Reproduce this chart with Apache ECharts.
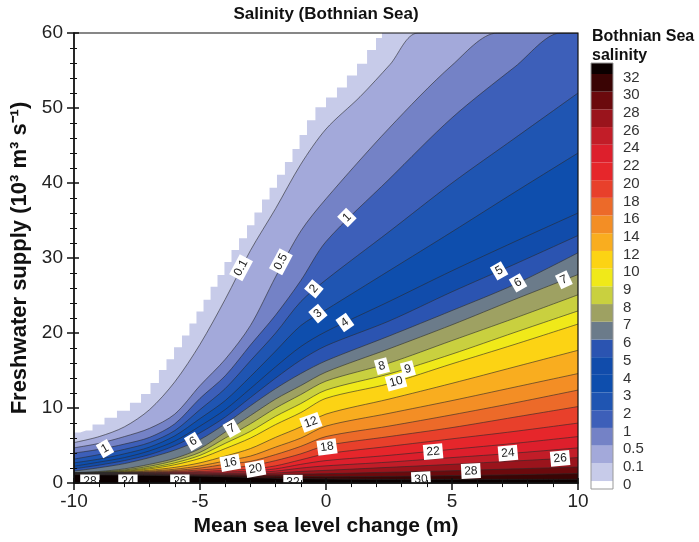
<!DOCTYPE html>
<html>
<head>
<meta charset="utf-8">
<script src="https://cdn.jsdelivr.net/npm/echarts@6/dist/echarts.min.js"></script>
<style>
  html, body { margin: 0; background: #fff; }
  #chart { width: 699px; height: 542px; }
</style>
</head>
<body>
<div id="chart"></div>
<script>
var FONT = 'Liberation Sans, Arial, Helvetica, sans-serif';

// contour levels drawn in the plot
var levels = [0.1, 0.5, 1, 2, 3, 4, 5, 6, 7, 8, 9, 10, 12, 14, 16, 18, 20, 22, 24, 26, 28, 30, 32];
// colour bar tick labels (0 .. 32)
var barLabels = ['0', '0.1', '0.5', '1', '2', '3', '4', '5', '6', '7', '8', '9', '10',
  '12', '14', '16', '18', '20', '22', '24', '26', '28', '30', '32'];
// band colours: <0, 0-0.1, 0.1-0.5, ... 30-32, >32
var bandColors = ['#ffffff', '#c7cbe9', '#a3a9da', '#7482c6', '#3d5fb9', '#1f55b2', '#0e4ead',
  '#114cab', '#2b54b1', '#6b7b8a', '#9ea162', '#c9d03f', '#f0e919', '#fcd314', '#f9ad1f',
  '#f38e25', '#ec6a29', '#e8402b', '#e6262b', '#dd1f2c', '#c21d28', '#9a141c', '#6b0a0d',
  '#3a0404', '#0b0000'];

// edge of the computed domain (white above it), read along the stair steps
var dryEdge = [[-10, 6.74], [-9.52, 7.0], [-9.01, 7.8], [-8.57, 8.72], [-8.02, 9.65], [-7.54, 10.7],
  [-7.14, 11.89], [-6.79, 13.35], [-6.47, 15.07], [-6.19, 16.52], [-5.87, 18.1], [-5.56, 19.69],
  [-5.28, 21.28], [-5.0, 22.86], [-4.72, 24.45], [-4.44, 26.17], [-4.17, 27.75], [-3.89, 29.47],
  [-3.61, 31.06], [-3.29, 32.64], [-2.98, 34.36], [-2.7, 36.08], [-2.38, 37.8], [-2.1, 39.38],
  [-1.79, 41.1], [-1.47, 42.82], [-1.19, 44.54], [-0.91, 46.39], [-0.6, 48.37], [-0.24, 50.09],
  [0.24, 51.41], [0.63, 52.73], [1.03, 54.32], [1.43, 55.9], [1.83, 57.75], [2.14, 59.34],
  [2.3, 60], [10, 60]];

// low salinity contours, they leave through the top edge
var c0_1 = [[-10, 5.4], [-9, 6.2], [-8, 7.5], [-7, 9.8], [-6, 13.5], [-5, 18.5], [-4, 24.5], [-3, 31.0],
  [-2, 36.6], [-1, 42.5], [0, 47.2], [1.35, 51.5], [2.54, 55.8], [3.65, 60], [10, 60]];
var c0_5 = [[-10, 4.7], [-9, 5.3], [-8, 6.2], [-7, 7.3], [-6, 9.2], [-5, 13.0], [-4, 16.5], [-3, 21.0],
  [-2, 27.5], [-1, 33.6], [0, 37.9], [2.5, 47.3], [5, 55.7], [6.8, 60], [10, 60]];
var c1 = [[-10, 4.0], [-9, 4.5], [-8, 5.2], [-7, 6.1], [-6, 7.9], [-5, 11.3], [-4, 14.3], [-3, 18.4],
  [-2, 22.4], [-1, 27.0], [0, 32.2], [2.5, 40.5], [5, 48.7], [7.5, 55.5], [9.3, 60], [10, 60]];

// the rest share one x grid
var xs = [-10, -9, -8, -7, -6, -5, -4, -3, -2, -1, 0, 2.5, 5, 7.5, 10];
var c2 = [3.2, 3.8, 4.5, 5.4, 7.0, 9.8, 12.6, 16.3, 20.0, 24.2, 27.1, 33.5, 40.0, 46.0, 52.0];
var c3 = [2.7, 3.2, 3.9, 4.8, 6.3, 8.6, 11.0, 14.2, 17.6, 21.0, 23.1, 28.3, 33.5, 38.8, 44.0];
var c4 = [2.25, 2.8, 3.4, 4.3, 5.6, 7.6, 9.8, 12.6, 15.5, 18.2, 20.2, 24.2, 28.3, 32.2, 36.0];
var c5 = [1.9, 2.4, 3.0, 3.8, 5.0, 6.7, 8.8, 11.4, 14.0, 16.4, 18.3, 21.6, 25.5, 29.2, 33.0];
var c6 = [1.6, 2.05, 2.6, 3.4, 4.4, 5.8, 7.9, 10.3, 12.6, 14.6, 16.3, 19.6, 23.0, 26.5, 30.7];
var c7 = [1.4, 1.55, 1.9, 2.5, 3.3, 4.6, 6.8, 9.0, 11.2, 13.0, 14.8, 17.9, 21.1, 24.5, 27.8];
var c8 = [1.38, 1.48, 1.75, 2.25, 3.0, 4.1, 6.0, 7.9, 10.0, 11.8, 13.6, 16.0, 19.0, 22.0, 25.1];
var c9 = [1.36, 1.44, 1.65, 2.05, 2.7, 3.7, 5.3, 6.9, 8.9, 10.6, 12.4, 14.55, 17.2, 20.1, 22.95];
var c10 = [1.35, 1.41, 1.57, 1.9, 2.45, 3.3, 4.6, 6.0, 7.8, 9.4, 11.3, 13.25, 15.9, 18.5, 21.2];
var c12 = [1.34, 1.39, 1.5, 1.72, 2.1, 2.7, 3.6, 4.6, 6.1, 7.5, 9.2, 11.2, 13.3, 15.5, 17.7];
var c14 = [1.33, 1.37, 1.45, 1.6, 1.85, 2.3, 2.95, 3.6, 4.8, 6.0, 7.6, 9.3, 11.0, 12.8, 14.6];
var c16 = [1.32, 1.35, 1.41, 1.5, 1.68, 2.0, 2.5, 2.9, 3.8, 4.9, 6.2, 7.6, 9.1, 10.7, 12.4];
var c18 = [1.31, 1.33, 1.38, 1.43, 1.55, 1.75, 2.0, 2.3, 3.0, 3.9, 5.0, 6.2, 7.4, 8.8, 10.2];
var c20 = [1.3, 1.31, 1.35, 1.38, 1.45, 1.55, 1.7, 1.85, 2.3, 3.1, 3.9, 4.9, 5.9, 6.9, 8.0];
var c22 = [1.28, 1.29, 1.32, 1.33, 1.37, 1.42, 1.5, 1.6, 1.9, 2.5, 3.0, 3.7, 4.5, 5.3, 6.2];
var c24 = [1.26, 1.26, 1.28, 1.28, 1.3, 1.32, 1.35, 1.4, 1.6, 2.0, 2.3, 2.8, 3.4, 4.0, 4.7];
var c26 = [1.24, 1.23, 1.24, 1.23, 1.22, 1.22, 1.25, 1.25, 1.35, 1.55, 1.7, 2.1, 2.5, 2.95, 3.4];
var c28 = [1.21, 1.2, 1.19, 1.17, 1.15, 1.12, 1.12, 1.1, 1.1, 1.2, 1.25, 1.45, 1.65, 1.9, 2.15];
var c30 = [1.17, 1.15, 1.13, 1.1, 1.07, 1.02, 1.0, 0.95, 0.9, 0.9, 0.85, 0.9, 1.0, 1.12, 1.28];
var c32 = [1.13, 1.1, 1.07, 1.03, 0.98, 0.92, 0.85, 0.75, 0.65, 0.6, 0.55, 0.5, 0.5, 0.5, 0.5];

// contour labels: text, x, y, rotation (degrees)
var contourLabels = [
  ['0.1', -3.37, 28.7, 62], ['0.5', -1.79, 29.5, 62], ['1', 0.83, 35.4, 45], ['1', -8.77, 4.6, 30],
  ['2', -0.48, 25.9, 50], ['3', -0.32, 22.6, 40], ['4', 0.75, 21.4, 35], ['5', 6.87, 28.3, 30],
  ['6', 7.62, 26.7, 30], ['7', 9.44, 27.1, 25], ['6', -5.27, 5.55, 30], ['7', -3.74, 7.3, 30],
  ['8', 2.22, 15.6, 15], ['9', 3.25, 15.2, 15], ['10', 2.78, 13.5, 15], ['12', -0.6, 8.1, 20],
  ['16', -3.8, 2.7, 10], ['20', -2.8, 1.9, 10], ['18', 0.04, 4.8, 8], ['22', 4.25, 4.2, 5],
  ['24', 7.22, 4.0, 5], ['26', 9.29, 3.3, 5], ['28', 5.75, 1.6, 3], ['30', 3.77, 0.5, 3],
  ['28', -9.37, 0.15, 0], ['24', -7.86, 0.15, 0], ['26', -5.8, 0.15, 0], ['32', -1.31, 0.1, 0]
];

function zip(ys) {
  return xs.map(function (x, i) { return [x, ys[i]]; });
}

var contours = [c0_1, c0_5, c1, zip(c2), zip(c3), zip(c4), zip(c5), zip(c6), zip(c7), zip(c8), zip(c9),
  zip(c10), zip(c12), zip(c14), zip(c16), zip(c18), zip(c20), zip(c22), zip(c24), zip(c26), zip(c28),
  zip(c30), zip(c32)];

var series = [];

// wet domain, lightest band
series.push({
  type: 'line', data: dryEdge, step: 'middle', showSymbol: false, silent: true,
  lineStyle: { width: 0 }, areaStyle: { color: bandColors[1], opacity: 1 }
});

contours.forEach(function (pts, k) {
  series.push({
    name: String(levels[k]),
    type: 'line', data: pts, smooth: 0.3, showSymbol: false, silent: true,
    lineStyle: { color: '#2a2a2a', width: 0.7, opacity: 0.85 },
    areaStyle: { color: bandColors[k + 2], opacity: 1 }
  });
});

// white label boxes on the contours
series.push({
  type: 'custom', silent: true, clip: true, z: 5,
  data: contourLabels.map(function (d) { return [d[1], d[2], d[3]]; }),
  encode: { x: 0, y: 1 },
  renderItem: function (params, api) {
    var p = api.coord([api.value(0), api.value(1)]);
    return {
      type: 'text', x: p[0], y: p[1], rotation: api.value(2) * Math.PI / 180,
      style: {
        text: contourLabels[params.dataIndex][0], fill: '#222', backgroundColor: '#fff',
        padding: [2, 3, 1, 3], font: '12px ' + FONT, align: 'center', verticalAlign: 'middle'
      }
    };
  }
});

// colour bar
var barBands = [[0, -0.45, 0]];
for (var j = 1; j < 24; j++) barBands.push([j, j - 1, j]);
barBands.push([24, 23, 23.62]);

series.push({
  type: 'custom', xAxisIndex: 2, yAxisIndex: 2, silent: true,
  data: barBands,
  encode: { y: [1, 2] },
  renderItem: function (params, api) {
    var a = api.coord([0, api.value(1)]);
    var b = api.coord([1, api.value(2)]);
    return {
      type: 'rect',
      shape: { x: a[0], y: b[1], width: b[0] - a[0], height: a[1] - b[1] },
      style: { fill: bandColors[api.value(0)] }
    };
  }
});

var barTicks = barLabels.map(function (s, i) { return i - 0.2; });

var axisFont = { fontFamily: FONT, fontSize: 19, color: '#222' };

var option = {
  animation: false,
  title: [
    { text: 'Salinity (Bothnian Sea)', left: 321, top: 1, textAlign: 'center',
      textStyle: { fontFamily: FONT, fontSize: 17, fontWeight: 'bold', color: '#111' } },
    { text: 'Bothnian Sea\nsalinity', left: 587, top: 22,
      textStyle: { fontFamily: FONT, fontSize: 16, fontWeight: 'bold', color: '#111', lineHeight: 19 } }
  ],
  grid: [
    { left: 74, right: 121, top: 33, bottom: 55, show: true, borderColor: '#111', borderWidth: 1.2,
      backgroundColor: 'transparent', z: 10 },
    { left: 591, top: 63, width: 22, height: 426, show: true, borderColor: '#999', borderWidth: 1,
      backgroundColor: 'transparent', z: 10 }
  ],
  xAxis: [
    { type: 'value', min: -10, max: 10, interval: 5, z: 10,
      axisLine: { onZero: false, lineStyle: { color: '#111', width: 1.5 } },
      axisTick: { length: 7, lineStyle: { color: '#111', width: 1.5 } },
      minorTick: { show: true, splitNumber: 5, length: 4, lineStyle: { color: '#111' } },
      axisLabel: Object.assign({ margin: 9 }, axisFont),
      splitLine: { show: false },
      name: 'Mean sea level change (m)', nameLocation: 'middle', nameGap: 31,
      nameTextStyle: { fontFamily: FONT, fontSize: 21, fontWeight: 'bold', color: '#111' } },
    { type: 'value', min: -10, max: 10, interval: 5, position: 'bottom', z: 10,
      axisLine: { show: false, onZero: false },
      axisTick: { inside: true, length: 5, lineStyle: { color: '#111', width: 1.5 } },
      minorTick: { show: true, splitNumber: 5, length: 3, lineStyle: { color: '#111' } },
      axisLabel: { show: false }, splitLine: { show: false } },
    { gridIndex: 1, type: 'value', min: 0, max: 1, show: false }
  ],
  yAxis: [
    { type: 'value', min: 0, max: 60, interval: 10, z: 10,
      axisLine: { onZero: false, lineStyle: { color: '#111', width: 1.5 } },
      axisTick: { length: 7, lineStyle: { color: '#111', width: 1.5 } },
      minorTick: { show: true, splitNumber: 5, length: 4, lineStyle: { color: '#111' } },
      axisLabel: Object.assign({ margin: 11 }, axisFont),
      splitLine: { show: false },
      name: 'Freshwater supply (10\u00b3 m\u00b3 s\u207b\u00b9)', nameLocation: 'middle', nameGap: 41,
      nameTextStyle: { fontFamily: FONT, fontSize: 22, fontWeight: 'bold', color: '#111' } },
    { type: 'value', min: 0, max: 60, interval: 10, position: 'left', z: 10,
      axisLine: { show: false, onZero: false },
      axisTick: { inside: true, length: 5, lineStyle: { color: '#111', width: 1.5 } },
      minorTick: { show: true, splitNumber: 5, length: 3, lineStyle: { color: '#111' } },
      axisLabel: { show: false }, splitLine: { show: false } },
    { gridIndex: 1, type: 'value', min: -0.45, max: 23.62, position: 'right',
      axisLine: { show: false }, axisTick: { show: false }, splitLine: { show: false },
      axisLabel: {
        customValues: barTicks, margin: 10, fontFamily: FONT, fontSize: 15, color: '#333',
        formatter: function (v) { return barLabels[Math.round(v + 0.2)]; }
      } }
  ],
  series: series
};

var myChart = echarts.init(document.getElementById('chart'));
myChart.setOption(option);
</script>
</body>
</html>
